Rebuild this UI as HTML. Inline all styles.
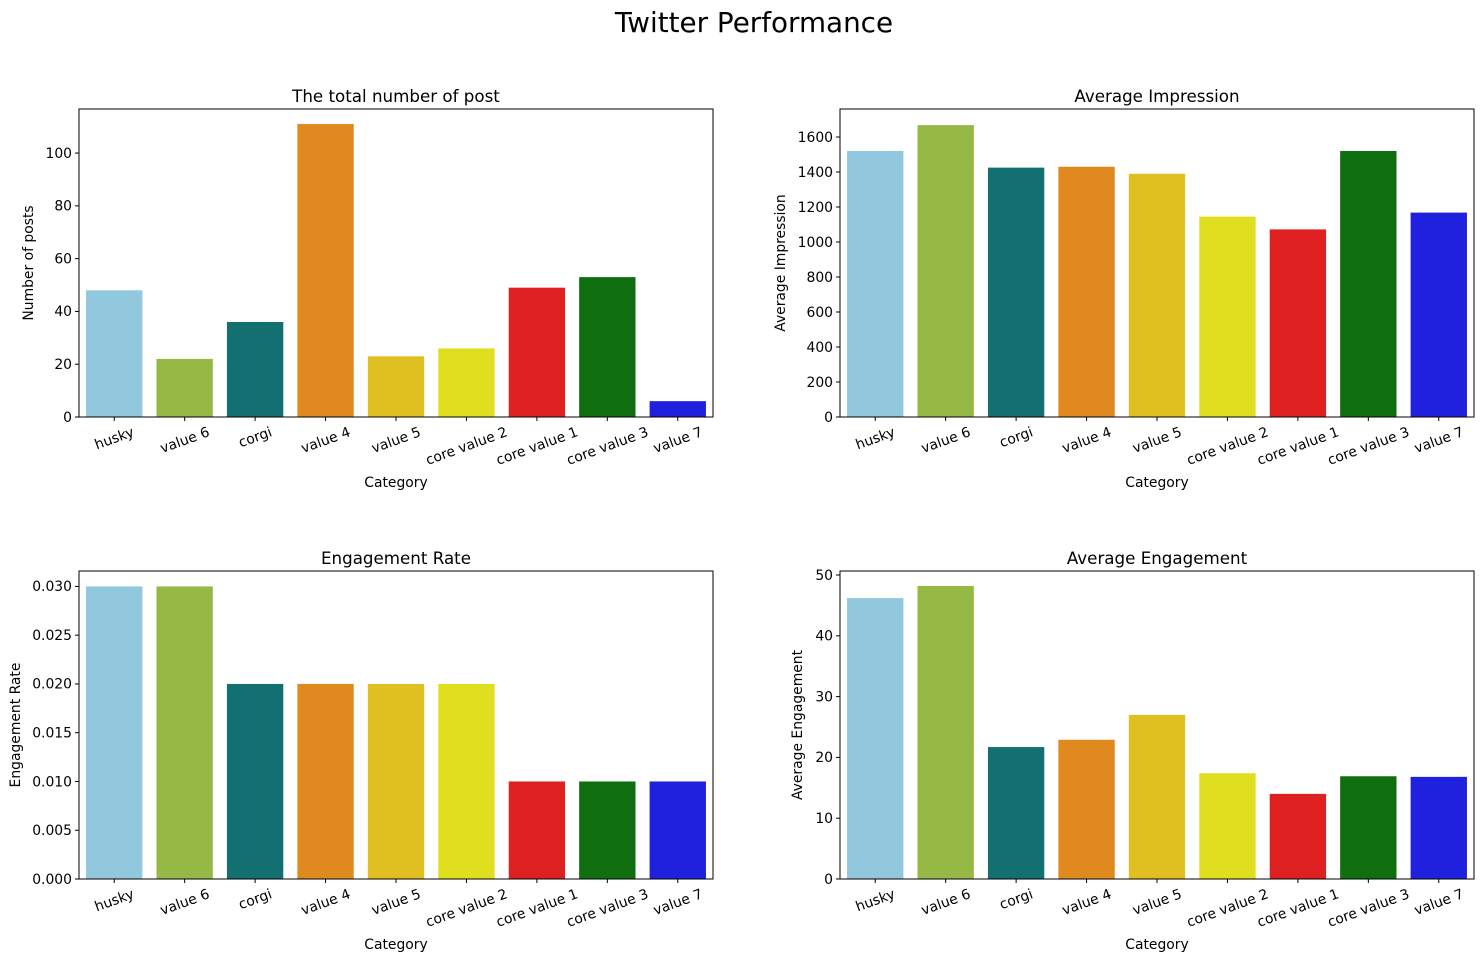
<!DOCTYPE html>
<html><head><meta charset="utf-8"><style>
html,body{margin:0;padding:0;background:#fff;}
svg{display:block;font-family:"DejaVu Sans","Liberation Sans",sans-serif;}
</style></head><body>
<svg id="fig" width="1484" height="961" viewBox="0 0 1484 961">
<text x="754" y="32" font-size="27.8" text-anchor="middle">Twitter Performance</text>
</svg>
<script>
const categories = ["husky","value 6","corgi","value 4","value 5","core value 2","core value 1","core value 3","value 7"];
const postCounts = [48,22,36,111,23,26,49,53,6];
const avgImpressions = [1520,1668,1425,1430,1390,1145,1072,1520,1168];
const engagementRates = [0.03,0.03,0.02,0.02,0.02,0.02,0.01,0.01,0.01];
const avgEngagements = [46.2,48.2,21.7,22.9,27.0,17.4,14.0,16.9,16.8];
const ticksPosts = [0,20,40,60,80,100];
const ticksImpr = [0,200,400,600,800,1000,1200,1400,1600];
const ticksRate = [0,0.005,0.01,0.015,0.02,0.025,0.03];
const ticksEng = [0,10,20,30,40,50];
const colors = ["#92c8de","#95b944","#127070","#e0891e","#dfc020","#dfdf1f","#df2020","#0f6f0f","#2020df"];
const NS="http://www.w3.org/2000/svg";
const svg=document.getElementById('fig');
function mk(tag,attrs,parent){const e=document.createElementNS(NS,tag);for(const k in attrs)e.setAttribute(k,attrs[k]);(parent||svg).appendChild(e);return e;}
function panel(key,x0,y0,w,h,title,ylab,vals,ticks,ymax,fmt){
  const g=mk('g',{});
  
  
  const ys=v=>y0+h-v/ymax*h;
  const slot=w/categories.length;
  vals.forEach((v,i)=>{
    const r=mk('rect',{x:x0+slot*i+slot*0.1,y:ys(v),width:slot*0.8,height:y0+h-ys(v),fill:colors[i]},g);
    
    
  });
  const fr=mk('rect',{x:x0,y:y0,width:w,height:h,fill:'none',stroke:'#000','stroke-width':1},g);
  
  
  ticks.forEach(t=>{
    const y=ys(t);
    mk('line',{x1:x0-4,x2:x0,y1:y,y2:y,stroke:'#000'},g);
    const tx=mk('text',{x:x0-7,y:y+4.8,'font-size':13.9,'text-anchor':'end'},g);
    tx.textContent=fmt(t);
    
    
  });
  categories.forEach((c,i)=>{
    const cx=x0+slot*(i+0.5);
    mk('line',{x1:cx,x2:cx,y1:y0+h,y2:y0+h+4,stroke:'#000'},g);
    const tx=mk('text',{x:cx,y:0,'font-size':13.9,'text-anchor':'middle'},g);
    tx.textContent=c;
    
    
    const tw=tx.getComputedTextLength();
    const cy=y0+h+7+(tw*0.342+15*0.94)/2;
    tx.setAttribute('y',cy+4.9);
    tx.setAttribute('transform',`rotate(-20 ${cx} ${cy})`);
  });
  const tt=mk('text',{x:x0+w/2,y:y0-7,'font-size':16.7,'text-anchor':'middle'},g);
  tt.textContent=title;
  
  
  const xl=mk('text',{x:x0+w/2,y:y0+h+70,'font-size':13.9,'text-anchor':'middle'},g);
  xl.textContent='Category';
  
  
  const lx=x0-(key==='rate'?59:key==='impr'?55:key==='eng'?38:46);
  const yl=mk('text',{x:lx,y:y0+h/2,'font-size':13.9,'text-anchor':'middle',transform:`rotate(-90 ${lx} ${y0+h/2})`},g);
  yl.textContent=ylab;
  
  
}
panel('posts',79,109,634,308,'The total number of post','Number of posts',postCounts,ticksPosts,116.7,t=>String(t));
panel('impr',840,109,634,308,'Average Impression','Average Impression',avgImpressions,ticksImpr,1760,t=>String(t));
panel('rate',79,571,634,308,'Engagement Rate','Engagement Rate',engagementRates,ticksRate,0.03158,t=>t.toFixed(3));
panel('eng',840,571,634,308,'Average Engagement','Average Engagement',avgEngagements,ticksEng,50.66,t=>String(t));
</script>
</body></html>
